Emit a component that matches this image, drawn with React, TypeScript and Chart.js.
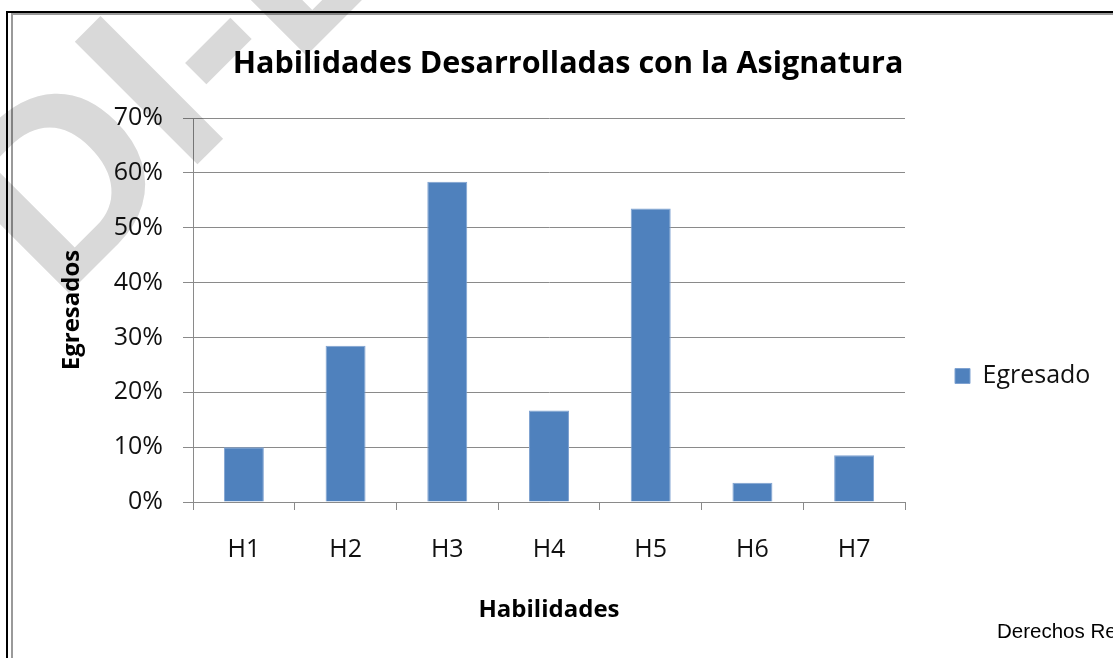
import React, { useEffect, useRef } from 'react';
import { Chart, registerables } from 'chart.js';

Chart.register(...registerables);

const categories = ['H1', 'H2', 'H3', 'H4', 'H5', 'H6', 'H7'];
const egresadoValues = [10, 28.5, 58.4, 16.7, 53.5, 3.5, 8.5];
const seriesLabel = 'Egresado';
const titleText = 'Habilidades Desarrolladas con la Asignatura';
const xTitleText = 'Habilidades';
const yTitleText = 'Egresados';
const watermarkText = 'DI-E';
const footerText = 'Derechos Reservados';

const FONT = "'Open Sans', 'DejaVu Sans', sans-serif";
const GRID = '#8a8a8a';
const TEXT = '#111111';

export default function App() {
  const canvasRef = useRef<HTMLCanvasElement | null>(null);

  useEffect(() => {
    const canvas = canvasRef.current;
    if (!canvas) return;
    const chart = new Chart(canvas, {
      type: 'bar',
      data: {
        labels: categories,
        datasets: [
          {
            label: seriesLabel,
            data: egresadoValues,
            backgroundColor: '#4F81BD',
            borderColor: '#7fa2d1',
            borderWidth: 1,
            barPercentage: 0.393,
            categoryPercentage: 1,
          },
        ],
      },
      options: {
        animation: false,
        responsive: false,
        maintainAspectRatio: false,
        layout: { padding: { left: 43, right: 20, top: 20, bottom: 30 } },
        plugins: {
          title: {
            display: true,
            text: titleText,
            color: '#000',
            font: { family: FONT, size: 30.5, weight: 'bold' },
            padding: { top: 26, bottom: 35.4 },
          },
          legend: {
            position: 'right',
            align: 'center',
            maxWidth: 188,
            title: { display: true, text: '', font: { size: 12 }, padding: { top: 0, bottom: 89.6 } },
            labels: {
              boxWidth: 15,
              boxHeight: 15,
              padding: 50,
              color: TEXT,
              font: { family: FONT, size: 25 },
            },
          },
          tooltip: { enabled: false },
        },
        scales: {
          x: {
            grid: {
              display: true,
              drawOnChartArea: false,
              drawTicks: true,
              tickLength: 8,
              color: GRID,
              offset: true,
            },
            border: { display: true, color: GRID },
            ticks: { color: TEXT, font: { family: FONT, size: 25 }, padding: 25 },
            title: {
              display: true,
              text: xTitleText,
              color: '#000',
              font: { family: FONT, size: 24, weight: 'bold' },
              padding: { top: 0, bottom: 3.6 },
            },
            afterFit: (s: any) => {
              s.height = 126;
            },
          },
          y: {
            min: 0,
            max: 70,
            ticks: {
              stepSize: 10,
              color: TEXT,
              font: { family: FONT, size: 25 },
              padding: 20,
              callback: (v: any) => v + '%',
            },
            grid: { color: GRID, tickLength: 10 },
            border: { color: GRID },
            title: {
              display: true,
              text: yTitleText,
              color: '#000',
              font: { family: FONT, size: 24, weight: 'bold' },
              padding: { top: 14.6, bottom: 0 },
            },
            afterFit: (s: any) => {
              s.width = 150;
            },
          },
        },
      },
    });
    return () => chart.destroy();
  }, []);

  return (
    <div
      style={{
        position: 'fixed',
        left: 0,
        top: 0,
        width: 1113,
        height: 658,
        overflow: 'hidden',
        background: '#fff',
      }}
    >
      <div style={{ position: 'absolute', left: 6, top: 11, width: 2000, height: 2000, borderLeft: '2px solid #000', borderTop: '2px solid #000' }} />
      <div style={{ position: 'absolute', left: 11, top: 13, width: 2000, height: 2000, borderLeft: '2px solid #9a9a9a', borderTop: '2px solid #9a9a9a' }} />
      <canvas ref={canvasRef} width={1113} height={658} style={{ position: 'absolute', left: 0, top: 0 }} />
      <div
        style={{
          position: 'absolute',
          left: 997,
          top: 619,
          whiteSpace: 'nowrap',
          fontFamily: "'Liberation Sans', Arial, sans-serif",
          fontSize: 20.5,
          color: '#000',
        }}
      >
        {footerText}
      </div>
      <svg
        width={1113}
        height={658}
        style={{ position: 'absolute', left: 0, top: 0, pointerEvents: 'none', mixBlendMode: 'multiply' }}
      >
        <text
          x={56.9}
          y={305}
          transform="rotate(-45 56.9 305)"
          fontFamily="'Liberation Sans', Arial, sans-serif"
          fontWeight="bold"
          fontSize={252}
          fill="#d9d9d9"
        >
          {watermarkText}
        </text>
      </svg>
    </div>
  );
}
